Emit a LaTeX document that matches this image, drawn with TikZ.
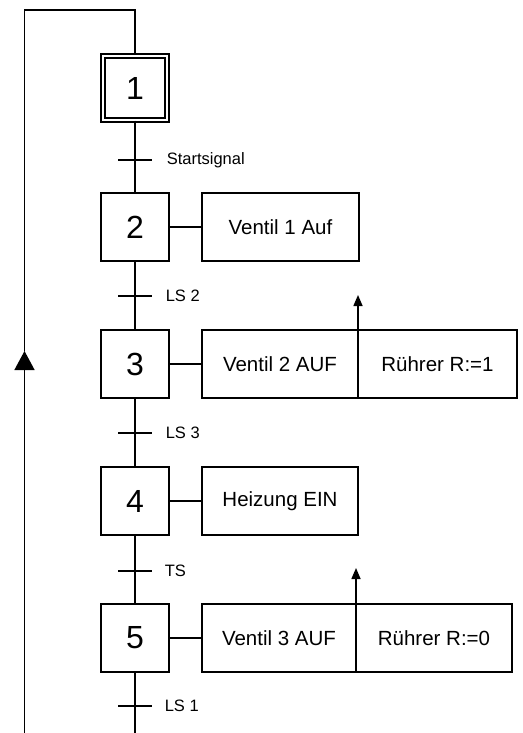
\documentclass[tikz,border=0pt]{standalone}
\usepackage{fontspec}
\setmainfont{Liberation Sans}
\usetikzlibrary{arrows.meta,positioning}

\begin{document}
\begin{tikzpicture}[x=1pt,y=-1pt,line width=1.5pt,
  stepbox/.style={draw,minimum width=68pt,minimum height=68pt,inner sep=0pt,font=\fontsize{32}{32}\selectfont},
  actbox/.style={draw,minimum height=68pt,inner sep=0pt,outer sep=0pt,anchor=west,font=\fontsize{20.5}{24}\selectfont},
  cond/.style={anchor=west,inner sep=0pt,font=\fontsize{16.5}{18}\selectfont},
  uparrow/.style={-{Triangle[width=9pt,length=11pt]}}]

\useasboundingbox (0,0) rectangle (522,733);

% Steps
\node[stepbox,minimum width=64pt,minimum height=64pt,double,double distance=2.5pt] (s1) at (135,88) {1};
\node[stepbox] (s2) at (135,227) {2};
\node[stepbox] (s3) at (135,364) {3};
\node[stepbox] (s4) at (135,501) {4};
\node[stepbox] (s5) at (135,638) {5};

% Actions
\node[actbox,minimum width=157pt] (a2) at (202,227) {Ventil 1 Auf};
\node[actbox,minimum width=156pt] (a3l) at (202,364) {Ventil 2 AUF};
\node[actbox,minimum width=159pt,right=0pt of a3l] (a3r) {Rührer R:=1};
\node[actbox,minimum width=156pt] (a4) at (202,501) {Heizung EIN};
\node[actbox,minimum width=154pt] (a5l) at (202,638) {Ventil 3 AUF};
\node[actbox,minimum width=156pt,right=0pt of a5l] (a5r) {Rührer R:=0};

% Step to action
\draw (s2) -- (a2);
\draw (s3) -- (a3l);
\draw (s4) -- (a4);
\draw (s5) -- (a5l);

% Arrows on the dividers
\coordinate (u3) at (358,295);
\coordinate (u5) at (356,568);
\draw[uparrow] (a3l.north east) -- (u3);
\draw[uparrow] (a5l.north east) -- (u5);

% Main line
\coordinate (bot) at (135,733);
\draw (s1) -- (s2) -- (s3) -- (s4) -- (s5) -- (bot);

% Transitions
\coordinate (t1) at (135,160);
\coordinate (t2) at (135,296);
\coordinate (t3) at (135,433);
\coordinate (t4) at (135,571);
\coordinate (t5) at (135,706);
\draw ([xshift=-17pt]t1) -- ([xshift=17pt]t1);
\draw ([xshift=-17pt]t2) -- ([xshift=17pt]t2);
\draw ([xshift=-17pt]t3) -- ([xshift=17pt]t3);
\draw ([xshift=-17pt]t4) -- ([xshift=17pt]t4);
\draw ([xshift=-17pt]t5) -- ([xshift=17pt]t5);

\node[cond] (c1) at (166,160) {Startsignal};
\node[cond] (c2) at (165,296) {LS 2};
\node[cond] (c3) at (165,433) {LS 3};
\node[cond] (c4) at (164,571) {TS};
\node[cond] (c5) at (164,706) {LS 1};

% Return line
\coordinate (rtop) at (24.5,10);
\coordinate (rarr) at (24.5,351);
\coordinate (rbot) at (24.5,733);
\draw[line join=miter] (s1.north) |- (rtop) -- (rarr);
\draw[-{Triangle[width=20pt,length=19pt]}] (rbot) -- (rarr);

\end{tikzpicture}
\end{document}
